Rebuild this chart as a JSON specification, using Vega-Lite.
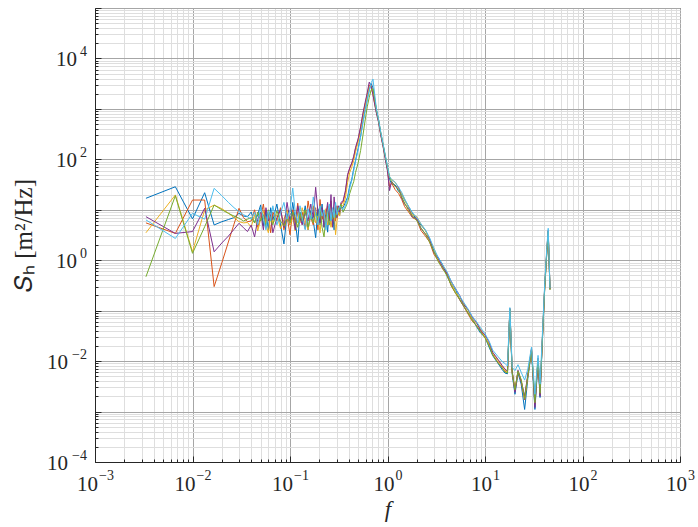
{
  "$schema": "https://vega.github.io/schema/vega-lite/v6.json",
  "autosize": "none",
  "width": 585,
  "height": 454,
  "padding": {"left": 95, "top": 8, "right": 18, "bottom": 65},
  "background": "white",
  "config": {
    "view": {"stroke": "#262626", "strokeWidth": 1},
    "axis": {
      "titleFont": "Liberation Serif",
      "titleFontSize": 25,
      "titleColor": "#262626",
      "titleFontWeight": "normal",
      "domainColor": "#262626",
      "tickColor": "#262626",
      "labels": false
    },
    "text": {"font": "Liberation Serif", "color": "#262626"}
  },
  "datasets": {
    "xt": [{"p":0.001,"e":"−3"},{"p":0.01,"e":"−2"},{"p":0.1,"e":"−1"},{"p":1,"e":"0"},{"p":10,"e":"1"},{"p":100,"e":"2"},{"p":1000,"e":"3"}],
    "yt": [{"p":0.0001,"e":"−4"},{"p":0.01,"e":"−2"},{"p":1,"e":"0"},{"p":100,"e":"2"},{"p":10000,"e":"4"}],
    "spec": [
{"s":"A","f":0.00333,"v":16.9},{"s":"A","f":0.00667,"v":28.6},{"s":"A","f":0.01,"v":6.6},{"s":"A","f":0.01333,"v":21.8},{"s":"A","f":0.01667,"v":5.0},{"s":"A","f":0.02,"v":5.8},{"s":"A","f":0.02333,"v":6.4},{"s":"A","f":0.02667,"v":7.0},{"s":"A","f":0.03,"v":8.5},{"s":"A","f":0.03333,"v":7.5},{"s":"A","f":0.03667,"v":7.3},
{"s":"A","f":0.04,"v":9.0},{"s":"A","f":0.04333,"v":5.5},{"s":"A","f":0.04667,"v":8.0},{"s":"A","f":0.05,"v":12.5},{"s":"A","f":0.05333,"v":4.8},{"s":"A","f":0.05667,"v":9.5},{"s":"A","f":0.06,"v":4.0},{"s":"A","f":0.06333,"v":11.0},{"s":"A","f":0.06667,"v":6.2},
{"s":"A","f":0.07333,"v":13.0},{"s":"A","f":0.08,"v":5.0},{"s":"A","f":0.08667,"v":2.1},{"s":"A","f":0.09333,"v":8.5},{"s":"A","f":0.1,"v":5.0},{"s":"A","f":0.1067,"v":14.0},{"s":"A","f":0.1133,"v":6.0},{"s":"A","f":0.12,"v":2.3},{"s":"A","f":0.1267,"v":9.0},{"s":"A","f":0.1333,"v":5.5},
{"s":"A","f":0.1433,"v":12.0},{"s":"A","f":0.1533,"v":4.0},{"s":"A","f":0.1633,"v":9.5},{"s":"A","f":0.1733,"v":6.0},{"s":"A","f":0.1833,"v":2.8},{"s":"A","f":0.1933,"v":10.5},{"s":"A","f":0.2033,"v":5.0},{"s":"A","f":0.2133,"v":13.0},{"s":"A","f":0.2233,"v":4.5},{"s":"A","f":0.2333,"v":8.0},{"s":"A","f":0.2433,"v":3.6},{"s":"A","f":0.2533,"v":11.0},{"s":"A","f":0.2633,"v":6.0},{"s":"A","f":0.2733,"v":9.0},{"s":"A","f":0.2833,"v":4.0},{"s":"A","f":0.2933,"v":12.0},{"s":"A","f":0.3033,"v":7.0},{"s":"A","f":0.3133,"v":10.0},{"s":"A","f":0.3233,"v":8.0},{"s":"A","f":0.3333,"v":11.0},
{"s":"A","f":0.35,"v":11},{"s":"A","f":0.37,"v":14},{"s":"A","f":0.39,"v":18},{"s":"A","f":0.41,"v":30},{"s":"A","f":0.43,"v":40},{"s":"A","f":0.45,"v":65},{"s":"A","f":0.47,"v":95},{"s":"A","f":0.5,"v":165},{"s":"A","f":0.53,"v":290},{"s":"A","f":0.56,"v":560},{"s":"A","f":0.59,"v":950},{"s":"A","f":0.62,"v":1550},{"s":"A","f":0.65,"v":2400},{"s":"A","f":0.68,"v":3200},{"s":"A","f":0.71,"v":2600},{"s":"A","f":0.74,"v":1500},{"s":"A","f":0.77,"v":950},{"s":"A","f":0.81,"v":600},{"s":"A","f":0.85,"v":340},{"s":"A","f":0.9,"v":195},{"s":"A","f":0.95,"v":115},{"s":"A","f":1.0,"v":68},
{"s":"A","f":1.05,"v":40},{"s":"A","f":1.1,"v":33},{"s":"A","f":1.2,"v":31},{"s":"A","f":1.3,"v":23},{"s":"A","f":1.4,"v":20.5},{"s":"A","f":1.5,"v":15.5},{"s":"A","f":1.65,"v":11.5},{"s":"A","f":1.8,"v":8.6},{"s":"A","f":2.0,"v":6.2},{"s":"A","f":2.2,"v":5.0},{"s":"A","f":2.45,"v":3.9},{"s":"A","f":2.7,"v":2.7},{"s":"A","f":3.0,"v":1.5},{"s":"A","f":3.3,"v":1.15},{"s":"A","f":3.7,"v":0.8},{"s":"A","f":4.1,"v":0.48},{"s":"A","f":4.5,"v":0.33},{"s":"A","f":5.0,"v":0.26},{"s":"A","f":5.5,"v":0.165},{"s":"A","f":6.0,"v":0.125},{"s":"A","f":6.7,"v":0.09},{"s":"A","f":7.4,"v":0.07},{"s":"A","f":8.2,"v":0.048},{"s":"A","f":9.0,"v":0.036},{"s":"A","f":10,"v":0.03},{"s":"A","f":11,"v":0.019},{"s":"A","f":12,"v":0.0128},{"s":"A","f":13.5,"v":0.0092},{"s":"A","f":15,"v":0.0068},{"s":"A","f":16,"v":0.0058},
{"s":"A","f":17,"v":0.0056},{"s":"A","f":18,"v":0.105},{"s":"A","f":19,"v":0.0055},{"s":"A","f":20.3,"v":0.0022},{"s":"A","f":21.8,"v":0.0058},{"s":"A","f":23.5,"v":0.0035},{"s":"A","f":25.5,"v":0.0011},{"s":"A","f":27.5,"v":0.0045},{"s":"A","f":30,"v":0.016},{"s":"A","f":32.5,"v":0.0011},{"s":"A","f":35,"v":0.010},{"s":"A","f":36.7,"v":0.0019},{"s":"A","f":38.5,"v":0.018},{"s":"A","f":41,"v":0.28},{"s":"A","f":43,"v":1.3},{"s":"A","f":44.5,"v":3.5},{"s":"A","f":46.4,"v":0.26},

{"s":"B","f":0.00333,"v":5.5},{"s":"B","f":0.00667,"v":3.4},{"s":"B","f":0.01,"v":15.6},{"s":"B","f":0.01333,"v":15.6},{"s":"B","f":0.01667,"v":0.30},{"s":"B","f":0.02,"v":0.89},{"s":"B","f":0.02333,"v":2.3},{"s":"B","f":0.02667,"v":5.2},{"s":"B","f":0.03,"v":10.7},{"s":"B","f":0.03333,"v":7.0},{"s":"B","f":0.03667,"v":5.8},
{"s":"B","f":0.04,"v":6.0},{"s":"B","f":0.04333,"v":10.0},{"s":"B","f":0.04667,"v":4.5},{"s":"B","f":0.05,"v":7.0},{"s":"B","f":0.05333,"v":13.0},{"s":"B","f":0.05667,"v":5.0},{"s":"B","f":0.06,"v":8.5},{"s":"B","f":0.06333,"v":3.5},{"s":"B","f":0.06667,"v":9.0},
{"s":"B","f":0.07333,"v":6.0},{"s":"B","f":0.08,"v":11.0},{"s":"B","f":0.08667,"v":4.0},{"s":"B","f":0.09333,"v":7.5},{"s":"B","f":0.1,"v":3.2},{"s":"B","f":0.1067,"v":10.0},{"s":"B","f":0.1133,"v":5.5},{"s":"B","f":0.12,"v":13.5},{"s":"B","f":0.1267,"v":6.0},{"s":"B","f":0.1333,"v":9.0},
{"s":"B","f":0.1433,"v":4.2},{"s":"B","f":0.1533,"v":15.0},{"s":"B","f":0.1633,"v":7.0},{"s":"B","f":0.1733,"v":5.0},{"s":"B","f":0.1833,"v":11.0},{"s":"B","f":0.1933,"v":4.0},{"s":"B","f":0.2033,"v":16.0},{"s":"B","f":0.2133,"v":6.5},{"s":"B","f":0.2233,"v":9.5},{"s":"B","f":0.2333,"v":4.5},{"s":"B","f":0.2433,"v":12.0},{"s":"B","f":0.2533,"v":7.0},{"s":"B","f":0.2633,"v":15.0},{"s":"B","f":0.2733,"v":5.5},{"s":"B","f":0.2833,"v":9.0},{"s":"B","f":0.2933,"v":6.0},{"s":"B","f":0.3033,"v":12.0},{"s":"B","f":0.3133,"v":8.0},{"s":"B","f":0.3233,"v":11.0},{"s":"B","f":0.3333,"v":13.0},
{"s":"B","f":0.35,"v":14},{"s":"B","f":0.37,"v":22},{"s":"B","f":0.39,"v":48},{"s":"B","f":0.41,"v":66},{"s":"B","f":0.43,"v":82},{"s":"B","f":0.45,"v":110},{"s":"B","f":0.47,"v":165},{"s":"B","f":0.5,"v":250},{"s":"B","f":0.53,"v":430},{"s":"B","f":0.56,"v":780},{"s":"B","f":0.59,"v":1250},{"s":"B","f":0.62,"v":1950},{"s":"B","f":0.65,"v":3000},{"s":"B","f":0.68,"v":2700},{"s":"B","f":0.71,"v":1900},{"s":"B","f":0.74,"v":1250},{"s":"B","f":0.77,"v":850},{"s":"B","f":0.81,"v":560},{"s":"B","f":0.85,"v":320},{"s":"B","f":0.9,"v":185},{"s":"B","f":0.95,"v":105},{"s":"B","f":1.0,"v":62},
{"s":"B","f":1.05,"v":28},{"s":"B","f":1.1,"v":34},{"s":"B","f":1.2,"v":25},{"s":"B","f":1.3,"v":21},{"s":"B","f":1.4,"v":16},{"s":"B","f":1.5,"v":11.5},{"s":"B","f":1.65,"v":9.0},{"s":"B","f":1.8,"v":7.0},{"s":"B","f":2.0,"v":6.3},{"s":"B","f":2.2,"v":3.9},{"s":"B","f":2.45,"v":3.0},{"s":"B","f":2.7,"v":2.3},{"s":"B","f":3.0,"v":1.3},{"s":"B","f":3.3,"v":1.0},{"s":"B","f":3.7,"v":0.66},{"s":"B","f":4.1,"v":0.52},{"s":"B","f":4.5,"v":0.31},{"s":"B","f":5.0,"v":0.22},{"s":"B","f":5.5,"v":0.165},{"s":"B","f":6.0,"v":0.125},{"s":"B","f":6.7,"v":0.086},{"s":"B","f":7.4,"v":0.062},{"s":"B","f":8.2,"v":0.05},{"s":"B","f":9.0,"v":0.04},{"s":"B","f":10,"v":0.029},{"s":"B","f":11,"v":0.022},{"s":"B","f":12,"v":0.0135},{"s":"B","f":13.5,"v":0.0096},{"s":"B","f":15,"v":0.0075},{"s":"B","f":16,"v":0.0062},
{"s":"B","f":17,"v":0.006},{"s":"B","f":18,"v":0.11},{"s":"B","f":19,"v":0.006},{"s":"B","f":20.3,"v":0.0026},{"s":"B","f":21.8,"v":0.0062},{"s":"B","f":23.5,"v":0.004},{"s":"B","f":25.5,"v":0.0017},{"s":"B","f":27.5,"v":0.005},{"s":"B","f":30,"v":0.017},{"s":"B","f":32.5,"v":0.0014},{"s":"B","f":35,"v":0.011},{"s":"B","f":36.7,"v":0.0022},{"s":"B","f":38.5,"v":0.02},{"s":"B","f":41,"v":0.3},{"s":"B","f":43,"v":1.5},{"s":"B","f":44.5,"v":3.8},{"s":"B","f":46.4,"v":0.27},

{"s":"C","f":0.00333,"v":3.5},{"s":"C","f":0.00667,"v":19.7},{"s":"C","f":0.01,"v":1.47},{"s":"C","f":0.01333,"v":9.9},{"s":"C","f":0.01667,"v":12.4},{"s":"C","f":0.02,"v":10.5},{"s":"C","f":0.02333,"v":8.6},{"s":"C","f":0.02667,"v":7.0},{"s":"C","f":0.03,"v":5.8},{"s":"C","f":0.03333,"v":5.5},{"s":"C","f":0.03667,"v":5.6},
{"s":"C","f":0.04,"v":4.5},{"s":"C","f":0.04333,"v":8.0},{"s":"C","f":0.04667,"v":3.8},{"s":"C","f":0.05,"v":6.5},{"s":"C","f":0.05333,"v":9.5},{"s":"C","f":0.05667,"v":5.0},{"s":"C","f":0.06,"v":3.5},{"s":"C","f":0.06333,"v":7.5},{"s":"C","f":0.06667,"v":5.5},
{"s":"C","f":0.07333,"v":8.0},{"s":"C","f":0.08,"v":4.2},{"s":"C","f":0.08667,"v":6.5},{"s":"C","f":0.09333,"v":10.0},{"s":"C","f":0.1,"v":5.0},{"s":"C","f":0.1067,"v":7.0},{"s":"C","f":0.1133,"v":3.8},{"s":"C","f":0.12,"v":9.0},{"s":"C","f":0.1267,"v":5.5},{"s":"C","f":0.1333,"v":11.0},
{"s":"C","f":0.1433,"v":6.0},{"s":"C","f":0.1533,"v":4.0},{"s":"C","f":0.1633,"v":8.0},{"s":"C","f":0.1733,"v":12.0},{"s":"C","f":0.1833,"v":5.5},{"s":"C","f":0.1933,"v":7.5},{"s":"C","f":0.2033,"v":3.5},{"s":"C","f":0.2133,"v":9.0},{"s":"C","f":0.2233,"v":6.0},{"s":"C","f":0.2333,"v":10.5},{"s":"C","f":0.2433,"v":5.0},{"s":"C","f":0.2533,"v":8.0},{"s":"C","f":0.2633,"v":4.5},{"s":"C","f":0.2733,"v":7.0},{"s":"C","f":0.2833,"v":11.0},{"s":"C","f":0.2933,"v":3.2},{"s":"C","f":0.3033,"v":6.0},{"s":"C","f":0.3133,"v":9.0},{"s":"C","f":0.3233,"v":7.5},{"s":"C","f":0.3333,"v":12.0},
{"s":"C","f":0.35,"v":12},{"s":"C","f":0.37,"v":17},{"s":"C","f":0.39,"v":35},{"s":"C","f":0.41,"v":55},{"s":"C","f":0.43,"v":70},{"s":"C","f":0.45,"v":95},{"s":"C","f":0.47,"v":140},{"s":"C","f":0.5,"v":220},{"s":"C","f":0.53,"v":380},{"s":"C","f":0.56,"v":700},{"s":"C","f":0.59,"v":1150},{"s":"C","f":0.62,"v":1800},{"s":"C","f":0.65,"v":2700},{"s":"C","f":0.68,"v":2900},{"s":"C","f":0.71,"v":2100},{"s":"C","f":0.74,"v":1350},{"s":"C","f":0.77,"v":900},{"s":"C","f":0.81,"v":580},{"s":"C","f":0.85,"v":330},{"s":"C","f":0.9,"v":190},{"s":"C","f":0.95,"v":110},{"s":"C","f":1.0,"v":66},
{"s":"C","f":1.05,"v":44},{"s":"C","f":1.1,"v":40},{"s":"C","f":1.2,"v":35},{"s":"C","f":1.3,"v":27},{"s":"C","f":1.4,"v":21},{"s":"C","f":1.5,"v":16},{"s":"C","f":1.65,"v":11},{"s":"C","f":1.8,"v":8.0},{"s":"C","f":2.0,"v":7.3},{"s":"C","f":2.2,"v":5.2},{"s":"C","f":2.45,"v":3.9},{"s":"C","f":2.7,"v":2.5},{"s":"C","f":3.0,"v":1.7},{"s":"C","f":3.3,"v":1.05},{"s":"C","f":3.7,"v":0.78},{"s":"C","f":4.1,"v":0.56},{"s":"C","f":4.5,"v":0.37},{"s":"C","f":5.0,"v":0.23},{"s":"C","f":5.5,"v":0.185},{"s":"C","f":6.0,"v":0.145},{"s":"C","f":6.7,"v":0.1},{"s":"C","f":7.4,"v":0.069},{"s":"C","f":8.2,"v":0.056},{"s":"C","f":9.0,"v":0.043},{"s":"C","f":10,"v":0.03},{"s":"C","f":11,"v":0.0215},{"s":"C","f":12,"v":0.0145},{"s":"C","f":13.5,"v":0.0105},{"s":"C","f":15,"v":0.008},{"s":"C","f":16,"v":0.0067},
{"s":"C","f":17,"v":0.0061},{"s":"C","f":18,"v":0.108},{"s":"C","f":19,"v":0.006},{"s":"C","f":20.3,"v":0.0028},{"s":"C","f":21.8,"v":0.0064},{"s":"C","f":23.5,"v":0.0042},{"s":"C","f":25.5,"v":0.0019},{"s":"C","f":27.5,"v":0.0052},{"s":"C","f":30,"v":0.017},{"s":"C","f":32.5,"v":0.0015},{"s":"C","f":35,"v":0.011},{"s":"C","f":36.7,"v":0.0024},{"s":"C","f":38.5,"v":0.02},{"s":"C","f":41,"v":0.3},{"s":"C","f":43,"v":1.4},{"s":"C","f":44.5,"v":3.6},{"s":"C","f":46.4,"v":0.26},

{"s":"D","f":0.00333,"v":7.3},{"s":"D","f":0.00667,"v":3.4},{"s":"D","f":0.01,"v":3.7},{"s":"D","f":0.01333,"v":10.7},{"s":"D","f":0.01667,"v":1.47},{"s":"D","f":0.02,"v":2.2},{"s":"D","f":0.02333,"v":3.0},{"s":"D","f":0.02667,"v":4.1},{"s":"D","f":0.03,"v":5.4},{"s":"D","f":0.03333,"v":4.4},{"s":"D","f":0.03667,"v":3.7},
{"s":"D","f":0.04,"v":5.0},{"s":"D","f":0.04333,"v":2.9},{"s":"D","f":0.04667,"v":6.5},{"s":"D","f":0.05,"v":9.0},{"s":"D","f":0.05333,"v":4.0},{"s":"D","f":0.05667,"v":11.0},{"s":"D","f":0.06,"v":6.0},{"s":"D","f":0.06333,"v":8.0},{"s":"D","f":0.06667,"v":3.5},
{"s":"D","f":0.07333,"v":7.0},{"s":"D","f":0.08,"v":10.0},{"s":"D","f":0.08667,"v":4.5},{"s":"D","f":0.09333,"v":14.0},{"s":"D","f":0.1,"v":6.0},{"s":"D","f":0.1067,"v":8.5},{"s":"D","f":0.1133,"v":4.0},{"s":"D","f":0.12,"v":12.0},{"s":"D","f":0.1267,"v":7.0},{"s":"D","f":0.1333,"v":5.0},
{"s":"D","f":0.1433,"v":9.0},{"s":"D","f":0.1533,"v":6.0},{"s":"D","f":0.1633,"v":13.0},{"s":"D","f":0.1733,"v":7.0},{"s":"D","f":0.1833,"v":28.0},{"s":"D","f":0.1933,"v":9.0},{"s":"D","f":0.2033,"v":5.5},{"s":"D","f":0.2133,"v":11.0},{"s":"D","f":0.2233,"v":4.5},{"s":"D","f":0.2333,"v":8.0},{"s":"D","f":0.2433,"v":14.0},{"s":"D","f":0.2533,"v":6.0},{"s":"D","f":0.2633,"v":20.0},{"s":"D","f":0.2733,"v":4.5},{"s":"D","f":0.2833,"v":18.0},{"s":"D","f":0.2933,"v":9.0},{"s":"D","f":0.3033,"v":7.0},{"s":"D","f":0.3133,"v":12.0},{"s":"D","f":0.3233,"v":9.0},{"s":"D","f":0.3333,"v":14.0},
{"s":"D","f":0.35,"v":15},{"s":"D","f":0.37,"v":24},{"s":"D","f":0.39,"v":50},{"s":"D","f":0.41,"v":68},{"s":"D","f":0.43,"v":85},{"s":"D","f":0.45,"v":115},{"s":"D","f":0.47,"v":170},{"s":"D","f":0.5,"v":255},{"s":"D","f":0.53,"v":440},{"s":"D","f":0.56,"v":820},{"s":"D","f":0.59,"v":1350},{"s":"D","f":0.62,"v":2100},{"s":"D","f":0.65,"v":3400},{"s":"D","f":0.68,"v":2800},{"s":"D","f":0.71,"v":1900},{"s":"D","f":0.74,"v":1200},{"s":"D","f":0.77,"v":820},{"s":"D","f":0.81,"v":540},{"s":"D","f":0.85,"v":310},{"s":"D","f":0.9,"v":180},{"s":"D","f":0.95,"v":100},{"s":"D","f":1.0,"v":58},
{"s":"D","f":1.05,"v":24},{"s":"D","f":1.1,"v":37},{"s":"D","f":1.2,"v":29},{"s":"D","f":1.3,"v":28},{"s":"D","f":1.4,"v":17},{"s":"D","f":1.5,"v":13},{"s":"D","f":1.65,"v":10.5},{"s":"D","f":1.8,"v":7.2},{"s":"D","f":2.0,"v":6.8},{"s":"D","f":2.2,"v":4.3},{"s":"D","f":2.45,"v":3.3},{"s":"D","f":2.7,"v":2.6},{"s":"D","f":3.0,"v":1.4},{"s":"D","f":3.3,"v":1.1},{"s":"D","f":3.7,"v":0.72},{"s":"D","f":4.1,"v":0.55},{"s":"D","f":4.5,"v":0.38},{"s":"D","f":5.0,"v":0.27},{"s":"D","f":5.5,"v":0.2},{"s":"D","f":6.0,"v":0.135},{"s":"D","f":6.7,"v":0.105},{"s":"D","f":7.4,"v":0.075},{"s":"D","f":8.2,"v":0.058},{"s":"D","f":9.0,"v":0.041},{"s":"D","f":10,"v":0.033},{"s":"D","f":11,"v":0.024},{"s":"D","f":12,"v":0.015},{"s":"D","f":13.5,"v":0.011},{"s":"D","f":15,"v":0.0082},{"s":"D","f":16,"v":0.007},
{"s":"D","f":17,"v":0.0063},{"s":"D","f":18,"v":0.11},{"s":"D","f":19,"v":0.0065},{"s":"D","f":20.3,"v":0.0024},{"s":"D","f":21.8,"v":0.0066},{"s":"D","f":23.5,"v":0.004},{"s":"D","f":25.5,"v":0.002},{"s":"D","f":27.5,"v":0.0055},{"s":"D","f":30,"v":0.018},{"s":"D","f":32.5,"v":0.0012},{"s":"D","f":35,"v":0.0115},{"s":"D","f":36.7,"v":0.002},{"s":"D","f":38.5,"v":0.021},{"s":"D","f":41,"v":0.32},{"s":"D","f":43,"v":1.5},{"s":"D","f":44.5,"v":3.9},{"s":"D","f":46.4,"v":0.27},

{"s":"E","f":0.00333,"v":0.47},{"s":"E","f":0.00667,"v":19.0},{"s":"E","f":0.01,"v":1.37},{"s":"E","f":0.01333,"v":4.6},{"s":"E","f":0.01667,"v":12.4},{"s":"E","f":0.02,"v":10.0},{"s":"E","f":0.02333,"v":8.5},{"s":"E","f":0.02667,"v":7.5},{"s":"E","f":0.03,"v":6.8},{"s":"E","f":0.03333,"v":6.0},{"s":"E","f":0.03667,"v":6.5},
{"s":"E","f":0.04,"v":7.0},{"s":"E","f":0.04333,"v":5.5},{"s":"E","f":0.04667,"v":9.0},{"s":"E","f":0.05,"v":6.0},{"s":"E","f":0.05333,"v":8.0},{"s":"E","f":0.05667,"v":4.5},{"s":"E","f":0.06,"v":10.0},{"s":"E","f":0.06333,"v":6.5},{"s":"E","f":0.06667,"v":5.0},
{"s":"E","f":0.07333,"v":9.5},{"s":"E","f":0.08,"v":6.0},{"s":"E","f":0.08667,"v":4.8},{"s":"E","f":0.09333,"v":7.0},{"s":"E","f":0.1,"v":5.5},{"s":"E","f":0.1067,"v":9.0},{"s":"E","f":0.1133,"v":6.5},{"s":"E","f":0.12,"v":4.5},{"s":"E","f":0.1267,"v":8.5},{"s":"E","f":0.1333,"v":6.0},
{"s":"E","f":0.1433,"v":10.0},{"s":"E","f":0.1533,"v":4.5},{"s":"E","f":0.1633,"v":7.5},{"s":"E","f":0.1733,"v":5.5},{"s":"E","f":0.1833,"v":9.0},{"s":"E","f":0.1933,"v":6.0},{"s":"E","f":0.2033,"v":11.0},{"s":"E","f":0.2133,"v":4.5},{"s":"E","f":0.2233,"v":2.9},{"s":"E","f":0.2333,"v":7.0},{"s":"E","f":0.2433,"v":9.5},{"s":"E","f":0.2533,"v":5.0},{"s":"E","f":0.2633,"v":8.0},{"s":"E","f":0.2733,"v":6.5},{"s":"E","f":0.2833,"v":10.0},{"s":"E","f":0.2933,"v":7.0},{"s":"E","f":0.3033,"v":9.0},{"s":"E","f":0.3133,"v":11.0},{"s":"E","f":0.3233,"v":10.0},{"s":"E","f":0.3333,"v":13.0},
{"s":"E","f":0.35,"v":9},{"s":"E","f":0.37,"v":11},{"s":"E","f":0.39,"v":14},{"s":"E","f":0.41,"v":21},{"s":"E","f":0.43,"v":28},{"s":"E","f":0.45,"v":36},{"s":"E","f":0.47,"v":55},{"s":"E","f":0.5,"v":85},{"s":"E","f":0.53,"v":150},{"s":"E","f":0.56,"v":300},{"s":"E","f":0.59,"v":600},{"s":"E","f":0.62,"v":1100},{"s":"E","f":0.65,"v":1700},{"s":"E","f":0.68,"v":2400},{"s":"E","f":0.71,"v":2500},{"s":"E","f":0.74,"v":1600},{"s":"E","f":0.77,"v":950},{"s":"E","f":0.81,"v":600},{"s":"E","f":0.85,"v":350},{"s":"E","f":0.9,"v":200},{"s":"E","f":0.95,"v":115},{"s":"E","f":1.0,"v":68},
{"s":"E","f":1.05,"v":46},{"s":"E","f":1.1,"v":36},{"s":"E","f":1.2,"v":29},{"s":"E","f":1.3,"v":25},{"s":"E","f":1.4,"v":18},{"s":"E","f":1.5,"v":13.5},{"s":"E","f":1.65,"v":9.6},{"s":"E","f":1.8,"v":7.6},{"s":"E","f":2.0,"v":6.1},{"s":"E","f":2.2,"v":4.4},{"s":"E","f":2.45,"v":3.3},{"s":"E","f":2.7,"v":2.3},{"s":"E","f":3.0,"v":1.45},{"s":"E","f":3.3,"v":0.95},{"s":"E","f":3.7,"v":0.68},{"s":"E","f":4.1,"v":0.48},{"s":"E","f":4.5,"v":0.32},{"s":"E","f":5.0,"v":0.22},{"s":"E","f":5.5,"v":0.17},{"s":"E","f":6.0,"v":0.128},{"s":"E","f":6.7,"v":0.09},{"s":"E","f":7.4,"v":0.065},{"s":"E","f":8.2,"v":0.05},{"s":"E","f":9.0,"v":0.038},{"s":"E","f":10,"v":0.029},{"s":"E","f":11,"v":0.02},{"s":"E","f":12,"v":0.0132},{"s":"E","f":13.5,"v":0.0094},{"s":"E","f":15,"v":0.0073},{"s":"E","f":16,"v":0.0061},
{"s":"E","f":17,"v":0.0058},{"s":"E","f":18,"v":0.107},{"s":"E","f":19,"v":0.006},{"s":"E","f":20.3,"v":0.0027},{"s":"E","f":21.8,"v":0.0063},{"s":"E","f":23.5,"v":0.0043},{"s":"E","f":25.5,"v":0.0018},{"s":"E","f":27.5,"v":0.005},{"s":"E","f":30,"v":0.017},{"s":"E","f":32.5,"v":0.0015},{"s":"E","f":35,"v":0.011},{"s":"E","f":36.7,"v":0.0023},{"s":"E","f":38.5,"v":0.02},{"s":"E","f":41,"v":0.29},{"s":"E","f":43,"v":1.4},{"s":"E","f":44.5,"v":3.7},{"s":"E","f":46.4,"v":0.26},

{"s":"F","f":0.00333,"v":6.3},{"s":"F","f":0.00667,"v":2.7},{"s":"F","f":0.01,"v":8.5},{"s":"F","f":0.01333,"v":6.5},{"s":"F","f":0.01667,"v":26.6},{"s":"F","f":0.02,"v":19.0},{"s":"F","f":0.02333,"v":14.0},{"s":"F","f":0.02667,"v":11.0},{"s":"F","f":0.03,"v":9.2},{"s":"F","f":0.03333,"v":8.0},{"s":"F","f":0.03667,"v":7.3},
{"s":"F","f":0.04,"v":6.5},{"s":"F","f":0.04333,"v":9.0},{"s":"F","f":0.04667,"v":5.0},{"s":"F","f":0.05,"v":11.0},{"s":"F","f":0.05333,"v":7.0},{"s":"F","f":0.05667,"v":4.0},{"s":"F","f":0.06,"v":9.5},{"s":"F","f":0.06333,"v":6.0},{"s":"F","f":0.06667,"v":12.0},
{"s":"F","f":0.07333,"v":5.0},{"s":"F","f":0.08,"v":8.5},{"s":"F","f":0.08667,"v":14.0},{"s":"F","f":0.09333,"v":6.5},{"s":"F","f":0.1,"v":10.0},{"s":"F","f":0.1067,"v":27.0},{"s":"F","f":0.1133,"v":9.0},{"s":"F","f":0.12,"v":5.5},{"s":"F","f":0.1267,"v":12.0},{"s":"F","f":0.1333,"v":7.0},
{"s":"F","f":0.1433,"v":4.0},{"s":"F","f":0.1533,"v":10.5},{"s":"F","f":0.1633,"v":6.5},{"s":"F","f":0.1733,"v":18.0},{"s":"F","f":0.1833,"v":8.0},{"s":"F","f":0.1933,"v":5.0},{"s":"F","f":0.2033,"v":12.0},{"s":"F","f":0.2133,"v":7.5},{"s":"F","f":0.2233,"v":10.0},{"s":"F","f":0.2333,"v":4.0},{"s":"F","f":0.2433,"v":8.5},{"s":"F","f":0.2533,"v":13.0},{"s":"F","f":0.2633,"v":6.0},{"s":"F","f":0.2733,"v":11.0},{"s":"F","f":0.2833,"v":7.0},{"s":"F","f":0.2933,"v":14.0},{"s":"F","f":0.3033,"v":8.0},{"s":"F","f":0.3133,"v":10.0},{"s":"F","f":0.3233,"v":12.0},{"s":"F","f":0.3333,"v":11.0},
{"s":"F","f":0.35,"v":10},{"s":"F","f":0.37,"v":12},{"s":"F","f":0.39,"v":17},{"s":"F","f":0.41,"v":27},{"s":"F","f":0.43,"v":38},{"s":"F","f":0.45,"v":60},{"s":"F","f":0.47,"v":90},{"s":"F","f":0.5,"v":155},{"s":"F","f":0.53,"v":280},{"s":"F","f":0.56,"v":540},{"s":"F","f":0.59,"v":920},{"s":"F","f":0.62,"v":1500},{"s":"F","f":0.65,"v":2300},{"s":"F","f":0.68,"v":3300},{"s":"F","f":0.71,"v":3900},{"s":"F","f":0.74,"v":1900},{"s":"F","f":0.77,"v":1000},{"s":"F","f":0.81,"v":620},{"s":"F","f":0.85,"v":360},{"s":"F","f":0.9,"v":205},{"s":"F","f":0.95,"v":120},{"s":"F","f":1.0,"v":72},
{"s":"F","f":1.05,"v":45},{"s":"F","f":1.1,"v":40},{"s":"F","f":1.2,"v":35},{"s":"F","f":1.3,"v":28},{"s":"F","f":1.4,"v":22},{"s":"F","f":1.5,"v":16.5},{"s":"F","f":1.65,"v":11.5},{"s":"F","f":1.8,"v":8.8},{"s":"F","f":2.0,"v":7.0},{"s":"F","f":2.2,"v":5.3},{"s":"F","f":2.45,"v":4.0},{"s":"F","f":2.7,"v":2.8},{"s":"F","f":3.0,"v":1.7},{"s":"F","f":3.3,"v":1.15},{"s":"F","f":3.7,"v":0.8},{"s":"F","f":4.1,"v":0.58},{"s":"F","f":4.5,"v":0.38},{"s":"F","f":5.0,"v":0.27},{"s":"F","f":5.5,"v":0.195},{"s":"F","f":6.0,"v":0.15},{"s":"F","f":6.7,"v":0.108},{"s":"F","f":7.4,"v":0.077},{"s":"F","f":8.2,"v":0.06},{"s":"F","f":9.0,"v":0.046},{"s":"F","f":10,"v":0.035},{"s":"F","f":11,"v":0.025},{"s":"F","f":12,"v":0.0165},{"s":"F","f":13.5,"v":0.0125},{"s":"F","f":15,"v":0.0098},{"s":"F","f":16,"v":0.009},
{"s":"F","f":17,"v":0.008},{"s":"F","f":18,"v":0.115},{"s":"F","f":19,"v":0.0075},{"s":"F","f":20.3,"v":0.0065},{"s":"F","f":21.8,"v":0.0085},{"s":"F","f":23.5,"v":0.006},{"s":"F","f":25.5,"v":0.0042},{"s":"F","f":27.5,"v":0.007},{"s":"F","f":30,"v":0.019},{"s":"F","f":32.5,"v":0.0022},{"s":"F","f":35,"v":0.013},{"s":"F","f":36.7,"v":0.0035},{"s":"F","f":38.5,"v":0.025},{"s":"F","f":41,"v":0.35},{"s":"F","f":43,"v":1.7},{"s":"F","f":44.5,"v":4.3},{"s":"F","f":46.4,"v":0.28}
    ]
  },
  "layer": [
    {
      "data": {"name": "spec"},
      "mark": {"type": "line", "strokeWidth": 1, "clip": true},
      "encoding": {
        "x": {
          "field": "f", "type": "quantitative",
          "scale": {"type": "log", "domain": [0.001, 1000], "nice": false},
          "axis": {
            "title": "f",
            "titleFontStyle": "italic",
            "titleFontSize": 23,
            "titlePadding": 36,
            "values": [0.001,0.002,0.003,0.004,0.005,0.006,0.007,0.008,0.009,0.01,0.02,0.03,0.04,0.05,0.06,0.07,0.08,0.09,0.1,0.2,0.3,0.4,0.5,0.6,0.7,0.8,0.9,1,2,3,4,5,6,7,8,9,10,20,30,40,50,60,70,80,90,100,200,300,400,500,600,700,800,900,1000],
            "grid": true,
            "gridColor": {"condition": {"test": "abs(log(datum.value)/LN10 - round(log(datum.value)/LN10)) < 0.001", "value": "#a6a6a6"}, "value": "#dedede"},
            "tickSize": {"condition": {"test": "abs(log(datum.value)/LN10 - round(log(datum.value)/LN10)) < 0.001", "value": -6}, "value": -3}
          }
        },
        "y": {
          "field": "v", "type": "quantitative",
          "scale": {"type": "log", "domain": [0.0001, 100000], "nice": false},
          "axis": {
            "title": "𝑆ₕ [m²/Hz]",
            "titlePadding": 58,
            "values": [0.0001,0.0002,0.0003,0.0004,0.0005,0.0006,0.0007,0.0008,0.0009,0.001,0.002,0.003,0.004,0.005,0.006,0.007,0.008,0.009,0.01,0.02,0.03,0.04,0.05,0.06,0.07,0.08,0.09,0.1,0.2,0.3,0.4,0.5,0.6,0.7,0.8,0.9,1,2,3,4,5,6,7,8,9,10,20,30,40,50,60,70,80,90,100,200,300,400,500,600,700,800,900,1000,2000,3000,4000,5000,6000,7000,8000,9000,10000,20000,30000,40000,50000,60000,70000,80000,90000,100000],
            "grid": true,
            "gridColor": {"condition": {"test": "abs(log(datum.value)/LN10 - round(log(datum.value)/LN10)) < 0.001", "value": "#a6a6a6"}, "value": "#dedede"},
            "tickSize": {"condition": {"test": "abs(log(datum.value)/LN10 - round(log(datum.value)/LN10)) < 0.001", "value": -6}, "value": -3}
          }
        },
        "color": {
          "field": "s", "type": "nominal", "legend": null,
          "scale": {"domain": ["A","B","C","D","E","F"], "range": ["#0072BD","#D95319","#EDB120","#7E2F8E","#77AC30","#4DBEEE"]}
        }
      }
    },
    {
      "data": {"name": "xt"},
      "transform": [{"filter": "datum.p < 1"}],
      "mark": {"type": "text", "text": "10", "fontSize": 21, "align": "right", "baseline": "middle", "dx": 3, "dy": 23},
      "encoding": {
        "x": {"field": "p", "type": "quantitative"},
        "y": {"datum": 0.0001, "type": "quantitative"}
      }
    },
    {
      "data": {"name": "xt"},
      "transform": [{"filter": "datum.p >= 1"}],
      "mark": {"type": "text", "text": "10", "fontSize": 21, "align": "right", "baseline": "middle", "dx": 7, "dy": 23},
      "encoding": {
        "x": {"field": "p", "type": "quantitative"},
        "y": {"datum": 0.0001, "type": "quantitative"}
      }
    },
    {
      "data": {"name": "xt"},
      "transform": [{"filter": "datum.p < 1"}],
      "mark": {"type": "text", "fontSize": 14, "align": "left", "baseline": "middle", "dx": 4, "dy": 14},
      "encoding": {
        "x": {"field": "p", "type": "quantitative"},
        "y": {"datum": 0.0001, "type": "quantitative"},
        "text": {"field": "e"}
      }
    },
    {
      "data": {"name": "xt"},
      "transform": [{"filter": "datum.p >= 1"}],
      "mark": {"type": "text", "fontSize": 14, "align": "left", "baseline": "middle", "dx": 8, "dy": 14},
      "encoding": {
        "x": {"field": "p", "type": "quantitative"},
        "y": {"datum": 0.0001, "type": "quantitative"},
        "text": {"field": "e"}
      }
    },
    {
      "data": {"name": "yt"},
      "transform": [{"filter": "datum.p < 1"}],
      "mark": {"type": "text", "text": "10", "fontSize": 21, "align": "right", "baseline": "middle", "dx": -27, "dy": 2},
      "encoding": {
        "y": {"field": "p", "type": "quantitative"},
        "x": {"datum": 0.001, "type": "quantitative"}
      }
    },
    {
      "data": {"name": "yt"},
      "transform": [{"filter": "datum.p >= 1"}],
      "mark": {"type": "text", "text": "10", "fontSize": 21, "align": "right", "baseline": "middle", "dx": -18, "dy": 2},
      "encoding": {
        "y": {"field": "p", "type": "quantitative"},
        "x": {"datum": 0.001, "type": "quantitative"}
      }
    },
    {
      "data": {"name": "yt"},
      "mark": {"type": "text", "fontSize": 14, "align": "right", "baseline": "middle", "dx": -8, "dy": -6},
      "encoding": {
        "y": {"field": "p", "type": "quantitative"},
        "x": {"datum": 0.001, "type": "quantitative"},
        "text": {"field": "e"}
      }
    }
  ]
}
